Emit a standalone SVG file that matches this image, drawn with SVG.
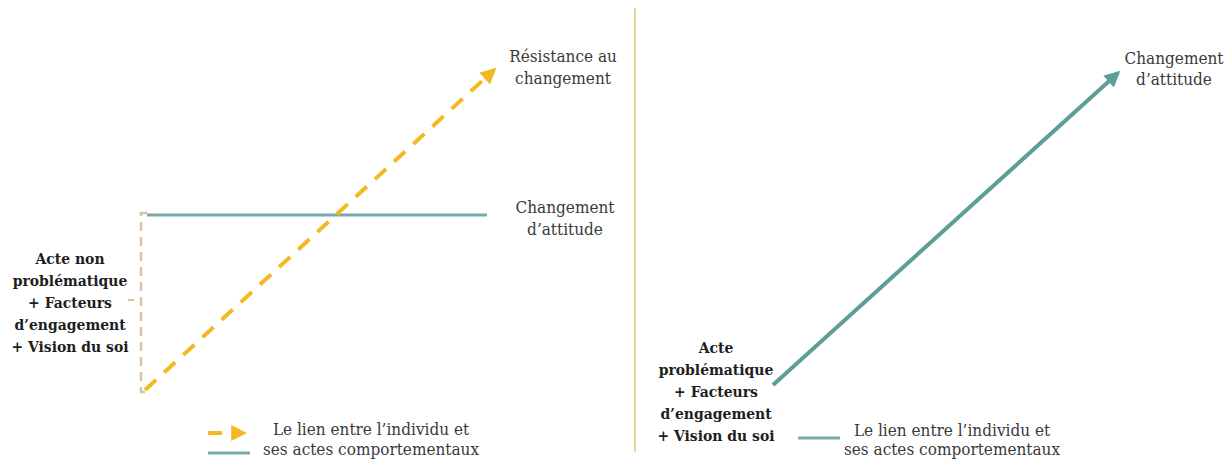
<svg xmlns="http://www.w3.org/2000/svg" width="1230" height="459" viewBox="0 0 1230 459">
<style>
text{font-family:'DejaVu Serif Condensed','DejaVu Serif',serif;font-stretch:condensed;font-size:17px;fill:#3a3a3a;text-anchor:middle}
.b{font-weight:bold;fill:#1e1e1e;font-size:15.5px}
</style>
<defs>
<marker id="ay" viewBox="0 0 10 10" refX="8" refY="5" markerWidth="4" markerHeight="4" orient="auto" markerUnits="strokeWidth"><path d="M0,0 L10,5 L0,10 z" fill="#F4B823"/></marker>
<marker id="at" viewBox="0 0 10 10" refX="8" refY="5" markerWidth="4" markerHeight="4" orient="auto" markerUnits="strokeWidth"><path d="M0,0 L10,5 L0,10 z" fill="#5E9E98"/></marker>
</defs>
<rect width="1230" height="459" fill="#ffffff"/>
<g id="connectors">
<line x1="635" y1="8" x2="635" y2="452" stroke="#E5D79A" stroke-width="2"/>
<polyline points="147,213 141,213 141,392 147,392" fill="none" stroke="#D9C4A2" stroke-width="2.5" stroke-dasharray="9,6"/>
<line x1="128" y1="300" x2="134" y2="300" stroke="#D9C4A2" stroke-width="2"/>
<line x1="147" y1="215" x2="487" y2="215" stroke="#76A9AA" stroke-width="3"/>
<line x1="145" y1="390" x2="494" y2="70" stroke="#F4B823" stroke-width="4" stroke-dasharray="15,11" marker-end="url(#ay)"/>
<line x1="773" y1="385" x2="1118" y2="73" stroke="#5E9E98" stroke-width="4" marker-end="url(#at)"/>
</g>
<g id="node-left">
<text class="b" x="70" y="264">Acte non</text>
<text class="b" x="70" y="286">problématique</text>
<text class="b" x="70" y="308">+ Facteurs</text>
<text class="b" x="70" y="330">d’engagement</text>
<text class="b" x="70" y="352">+ Vision du soi</text>
</g>
<g id="node-resistance">
<text x="563" y="62">Résistance au</text>
<text x="563" y="84">changement</text>
</g>
<g id="node-changement-left">
<text x="565" y="213">Changement</text>
<text x="565" y="235">d’attitude</text>
</g>
<g id="node-right">
<text class="b" x="716" y="353">Acte</text>
<text class="b" x="716" y="375">problématique</text>
<text class="b" x="716" y="397">+ Facteurs</text>
<text class="b" x="716" y="419">d’engagement</text>
<text class="b" x="716" y="441">+ Vision du soi</text>
</g>
<g id="node-changement-right">
<text x="1174" y="64">Changement</text>
<text x="1174" y="85">d’attitude</text>
</g>
<g id="legend-left">
<line x1="208" y1="433" x2="222" y2="433" stroke="#F4B823" stroke-width="4"/>
<line x1="234" y1="433" x2="244" y2="433" stroke="#F4B823" stroke-width="4" marker-end="url(#ay)"/>
<line x1="208" y1="453" x2="250" y2="453" stroke="#76A9AA" stroke-width="3"/>
<text x="371" y="435">Le lien entre l’individu et</text>
<text x="371" y="455">ses actes comportementaux</text>
</g>
<g id="legend-right">
<line x1="798" y1="438" x2="840" y2="438" stroke="#76A9AA" stroke-width="3"/>
<text x="952" y="436">Le lien entre l’individu et</text>
<text x="952" y="455">ses actes comportementaux</text>
</g>
</svg>
